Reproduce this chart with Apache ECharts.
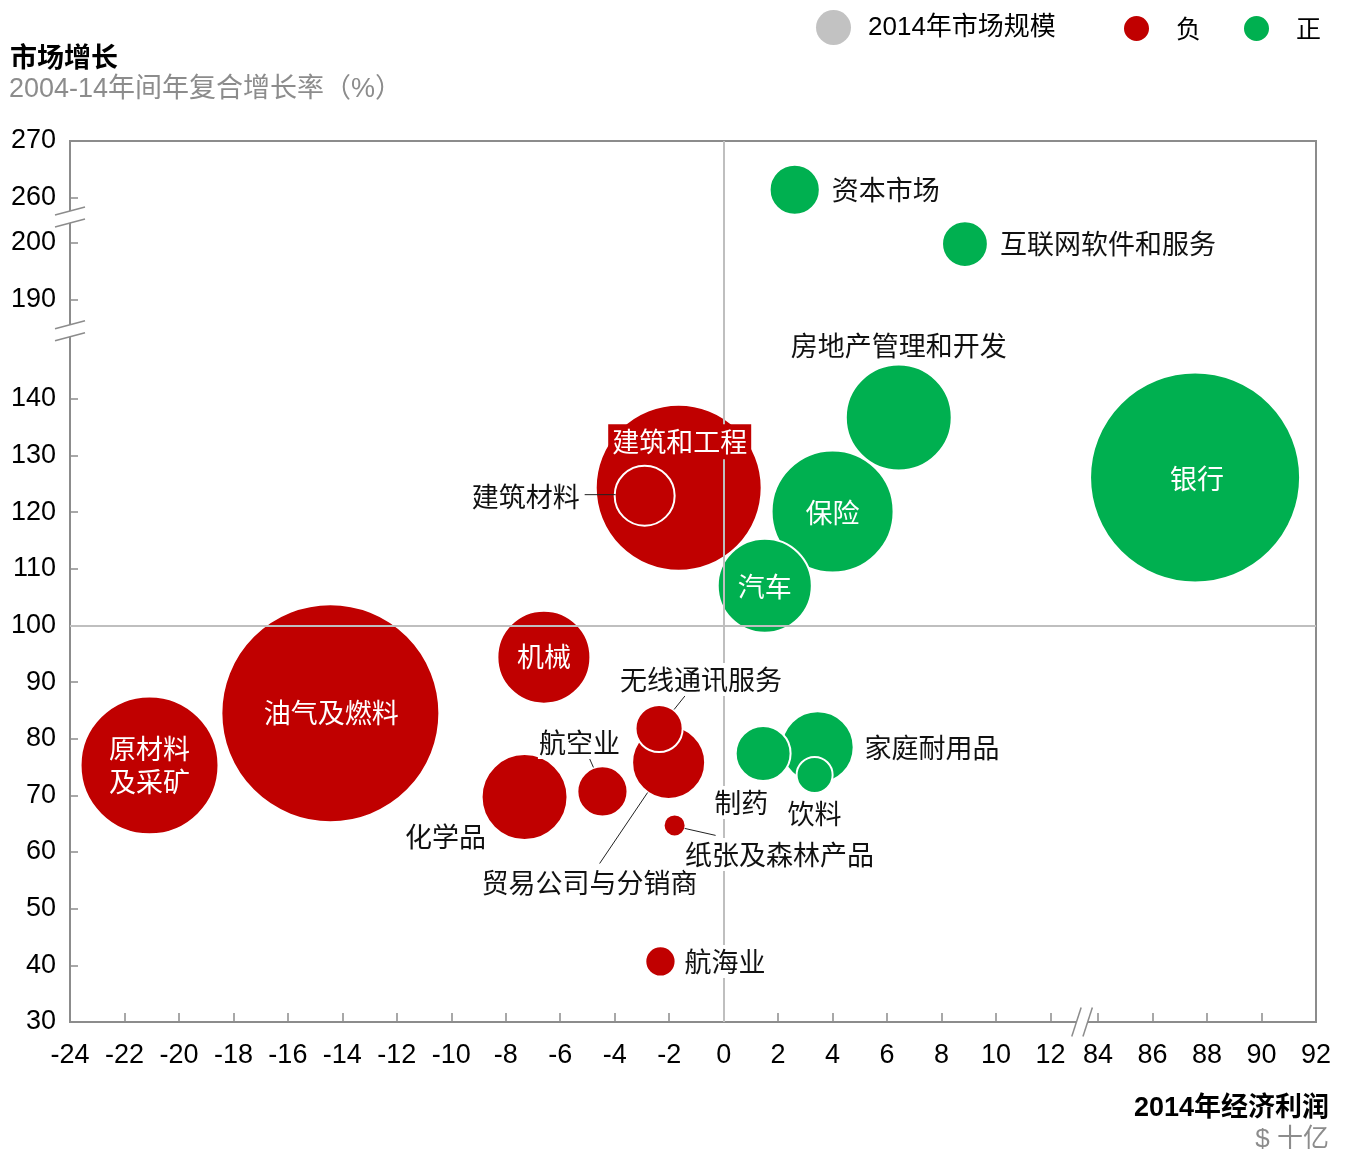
<!DOCTYPE html>
<html><head><meta charset="utf-8">
<script src="https://cdn.jsdelivr.net/npm/echarts@6/dist/echarts.min.js"></script>
<style>html,body{margin:0;padding:0;background:#fff}#c{width:1348px;height:1149px}</style>
</head><body><div id="c"></div>
<script>
// ---------------- data ----------------
const industries = ['原材料及采矿','油气及燃料','机械','化学品','航空业','建筑和工程','建筑材料','贸易公司与分销商','无线通讯服务','纸张及森林产品','航海业',
                    '资本市场','互联网软件和服务','房地产管理和开发','银行','保险','汽车','家庭耐用品','制药','饮料'];
// 2014 economic profit, $ billion
const profit     = [-21.08,-14.44,-6.60,-7.31,-4.45,-1.65,-2.90,-2.02,-2.37,-1.80,-2.32,
                     2.61, 8.86, 6.43, 87.56, 4.00, 1.51, 3.45, 1.45, 3.34];
// 2004-14 market growth (%)
const growth     = [75.3, 84.5, 94.4, 69.7, 70.7, 124.3, 122.9, 75.8, 81.8, 64.7, 40.7,
                     261.4, 199.8, 136.7, 126.1, 120.1, 107.0, 78.5, 77.4, 73.6];
// 2014 market size (relative)
const marketSize = [46.2, 116.6, 20.7, 17.6, 5.8, 67.2, 8.4, 12.6, 5.1, 1.0, 2.0,
                     5.8, 4.8, 27.0, 108.2, 36.0, 21.2, 12.3, 7.0, 2.9];
const xTickLabels = [-24,-22,-20,-18,-16,-14,-12,-10,-8,-6,-4,-2,0,2,4,6,8,10,12,84,86,88,90,92];
const yTickLabels = [30,40,50,60,70,80,90,100,110,120,130,140,190,200,260,270];
const legendNames = ['2014年市场规模','负','正'];

// ---------------- broken-axis mapping ----------------
function vx(x){ return x >= 50 ? x - 70.25 : x; }
function vy(y){ if (y >= 230) return y - 84.5; if (y >= 170) return y - 32.5; return y; }

// ---------------- label styling (offsets in px from bubble centre) ----------------
const labelStyle = {
  '原材料及采矿':{inside:true,dx:0,dy:0,text:'原材料\n及采矿'},
  '油气及燃料':{inside:true,dx:1,dy:0},
  '机械':{inside:true,dx:0,dy:0},
  '化学品':{dx:-79,dy:40},
  '航空业':{dx:-23,dy:-49,line:[-13,-33,-9,-24]},
  '建筑和工程':{inside:true,dx:1,dy:-46,bg:'#c00000',pad:[1,4]},
  '建筑材料':{dx:-64,dy:1,align:'right',line:[-60,-1,-29,-1]},
  '贸易公司与分销商':{dx:-79,dy:120,line:[-69,101,-21,30]},
  '无线通讯服务':{dx:42,dy:-49,line:[15,-19,27,-34]},
  '纸张及森林产品':{dx:105,dy:29,line:[10,3,41,10]},
  '航海业':{dx:23,dy:0,align:'left'},
  '资本市场':{dx:36,dy:0,align:'left'},
  '互联网软件和服务':{dx:34,dy:0,align:'left'},
  '房地产管理和开发':{dx:0,dy:-72},
  '银行':{inside:true,dx:2,dy:1},
  '保险':{inside:true,dx:0,dy:1},
  '汽车':{inside:true,dx:0,dy:1},
  '家庭耐用品':{dx:46,dy:1,align:'left'},
  '制药':{dx:-22,dy:49},
  '饮料':{dx:0,dy:39}
};

const RED = '#c00000', GREEN = '#00b050', GREY_AXIS = '#8c8c8c';
const NUM_FONT = '"Liberation Sans", "Noto Sans CJK SC", sans-serif';
const CJK_FONT = '"Noto Sans CJK SC", sans-serif';

const negData = [], posData = [], labelData = [];
industries.forEach((n, i) => {
  const item = {name: n, value: [vx(profit[i]), vy(growth[i]), marketSize[i]]};
  (profit[i] < 0 ? negData : posData).push(item);
  labelData.push([vx(profit[i]), vy(growth[i]), i]);
});

const bubbleSize = v => 20 * Math.sqrt(v[2]) + 2;
const xVirt = xTickLabels.map(vx), yVirt = yTickLabels.map(vy);
function fmt(list, virt, v){ for (let k=0;k<virt.length;k++) if (Math.abs(virt[k]-v) < 1e-6) return String(list[k]); return ''; }

const chart = echarts.init(document.getElementById('c'));
const option = {
  animation: false,
  backgroundColor: '#fff',
  title: [
    {text:'市场增长', left:10, top:43, padding:0, textStyle:{fontSize:27, fontWeight:'bold', color:'#000', fontFamily:CJK_FONT, lineHeight:27}},
    {text:'2004-14年间年复合增长率（%）', left:9, top:76, padding:0, textStyle:{fontSize:27, fontWeight:'normal', color:'#8c8c8c', fontFamily:NUM_FONT, lineHeight:27}},
    {text:'2014年经济利润', right:19, top:1095, padding:0, textStyle:{fontSize:27, fontWeight:'bold', color:'#000', fontFamily:NUM_FONT, lineHeight:27}},
    {text:'$ 十亿', right:19, top:1127, padding:0, textStyle:{fontSize:26, fontWeight:'normal', color:'#8c8c8c', fontFamily:NUM_FONT, lineHeight:26}}
  ],
  legend: [
    {data:[legendNames[0]], left:816, top:10, padding:0, icon:'circle', itemWidth:35, itemHeight:35, selectedMode:false,
     textStyle:{fontSize:26, color:'#000', fontFamily:NUM_FONT, padding:[0,0,0,12]}},
    {data:[legendNames[1]], left:1122, top:14, padding:0, icon:'circle', itemWidth:27, itemHeight:27, selectedMode:false,
     textStyle:{fontSize:25, color:'#000', fontFamily:CJK_FONT, padding:[0,0,0,21]}},
    {data:[legendNames[2]], left:1242, top:14, padding:0, icon:'circle', itemWidth:27, itemHeight:27, selectedMode:false,
     textStyle:{fontSize:25, color:'#000', fontFamily:CJK_FONT, padding:[0,0,0,21]}}
  ],
  grid: {left:70, right:32, top:141, bottom:127, show:true, borderColor:GREY_AXIS, borderWidth:2, backgroundColor:'transparent'},
  xAxis: {
    type:'value', min:-24, max:21.75,
    axisLine:{show:true, onZero:false, lineStyle:{color:GREY_AXIS, width:2}},
    axisTick:{show:true, inside:true, length:9, customValues:xVirt, lineStyle:{color:GREY_AXIS, width:1.5}},
    axisLabel:{show:true, customValues:xVirt, margin:20, fontSize:27, color:'#000', fontFamily:NUM_FONT,
               formatter: v => fmt(xTickLabels, xVirt, v)},
    splitLine:{show:false}
  },
  yAxis: {
    type:'value', min:30, max:185.5,
    axisLine:{show:true, onZero:false, lineStyle:{color:GREY_AXIS, width:2}},
    axisTick:{show:true, inside:true, length:8, customValues:yVirt, lineStyle:{color:GREY_AXIS, width:1.5}},
    axisLabel:{show:true, customValues:yVirt, margin:14, fontSize:27, color:'#000', fontFamily:NUM_FONT,
               formatter: v => fmt(yTickLabels, yVirt, v)},
    splitLine:{show:false}
  },
  series: [
    {name:legendNames[0], type:'scatter', data:[], itemStyle:{color:'#b3b3b3'}},
    {name:legendNames[1], type:'scatter', z:2, data:negData, symbolSize:bubbleSize,
     itemStyle:{color:RED, opacity:1, borderColor:'#fff', borderWidth:2}, emphasis:{disabled:true}, silent:true},
    {name:legendNames[2], type:'scatter', z:2, data:posData, symbolSize:bubbleSize,
     itemStyle:{color:GREEN, opacity:1, borderColor:'#fff', borderWidth:2}, emphasis:{disabled:true}, silent:true,
     markLine:{silent:true, symbol:'none', z:5, label:{show:false}, animation:false,
       lineStyle:{color:'#bfbfbf', width:2, type:'solid'},
       data:[{xAxis:0},{yAxis:vy(100)}]}},
    {name:'labels', type:'custom', z:10, silent:true, clip:false, data:labelData,
     renderItem: (params, api) => {
       const i = api.value(2);
       const name = industries[i];
       const s = labelStyle[name];
       const c = api.coord([api.value(0), api.value(1)]);
       const ch = [];
       if (s.line) ch.push({type:'line', shape:{x1:c[0]+s.line[0], y1:c[1]+s.line[1], x2:c[0]+s.line[2], y2:c[1]+s.line[3]},
                            style:{stroke:'#222', lineWidth:1}});
       ch.push({type:'text', x:c[0]+s.dx, y:c[1]+s.dy,
         style:{text:s.text || name, fill:s.inside ? '#fff' : '#111', fontSize:27, fontFamily:CJK_FONT,
                align:s.align || 'center', verticalAlign:'middle', lineHeight:33,
                backgroundColor: s.bg || (s.inside ? 'transparent' : '#fff'), padding: s.pad || [0,1]}});
       return {type:'group', children:ch};
     }}
  ]
};
chart.setOption(option);

// axis-break marks
const axX = chart.convertToPixel({xAxisIndex:0}, -24);
const axY = chart.convertToPixel({yAxisIndex:0}, 30);
const g = [];
[152, 172.1].forEach(v => {
  const y = chart.convertToPixel({yAxisIndex:0}, v);
  g.push({type:'polygon', z:100, shape:{points:[[axX-6,y-4.4],[axX+6,y-7.6],[axX+6,y+4.4],[axX-6,y+7.6]]}, style:{fill:'#fff'}});
  [-6, 6].forEach(o => g.push({type:'line', z:101, shape:{x1:axX-15, y1:y+o+4, x2:axX+15, y2:y+o-4}, style:{stroke:GREY_AXIS, lineWidth:1.5}}));
});
{
  const x = chart.convertToPixel({xAxisIndex:0}, 13.16);
  g.push({type:'polygon', z:100, shape:{points:[[x-5.6-1.5,axY+4.5],[x-5.6+1.5,axY-4.5],[x+5.6+1.5,axY-4.5],[x+5.6-1.5,axY+4.5]]}, style:{fill:'#fff'}});
  [-5.6, 5.6].forEach(o => g.push({type:'line', z:101, shape:{x1:x+o-4.7, y1:axY+14.5, x2:x+o+4.7, y2:axY-14.5}, style:{stroke:GREY_AXIS, lineWidth:1.5}}));
}
chart.setOption({graphic: g});
</script></body></html>
